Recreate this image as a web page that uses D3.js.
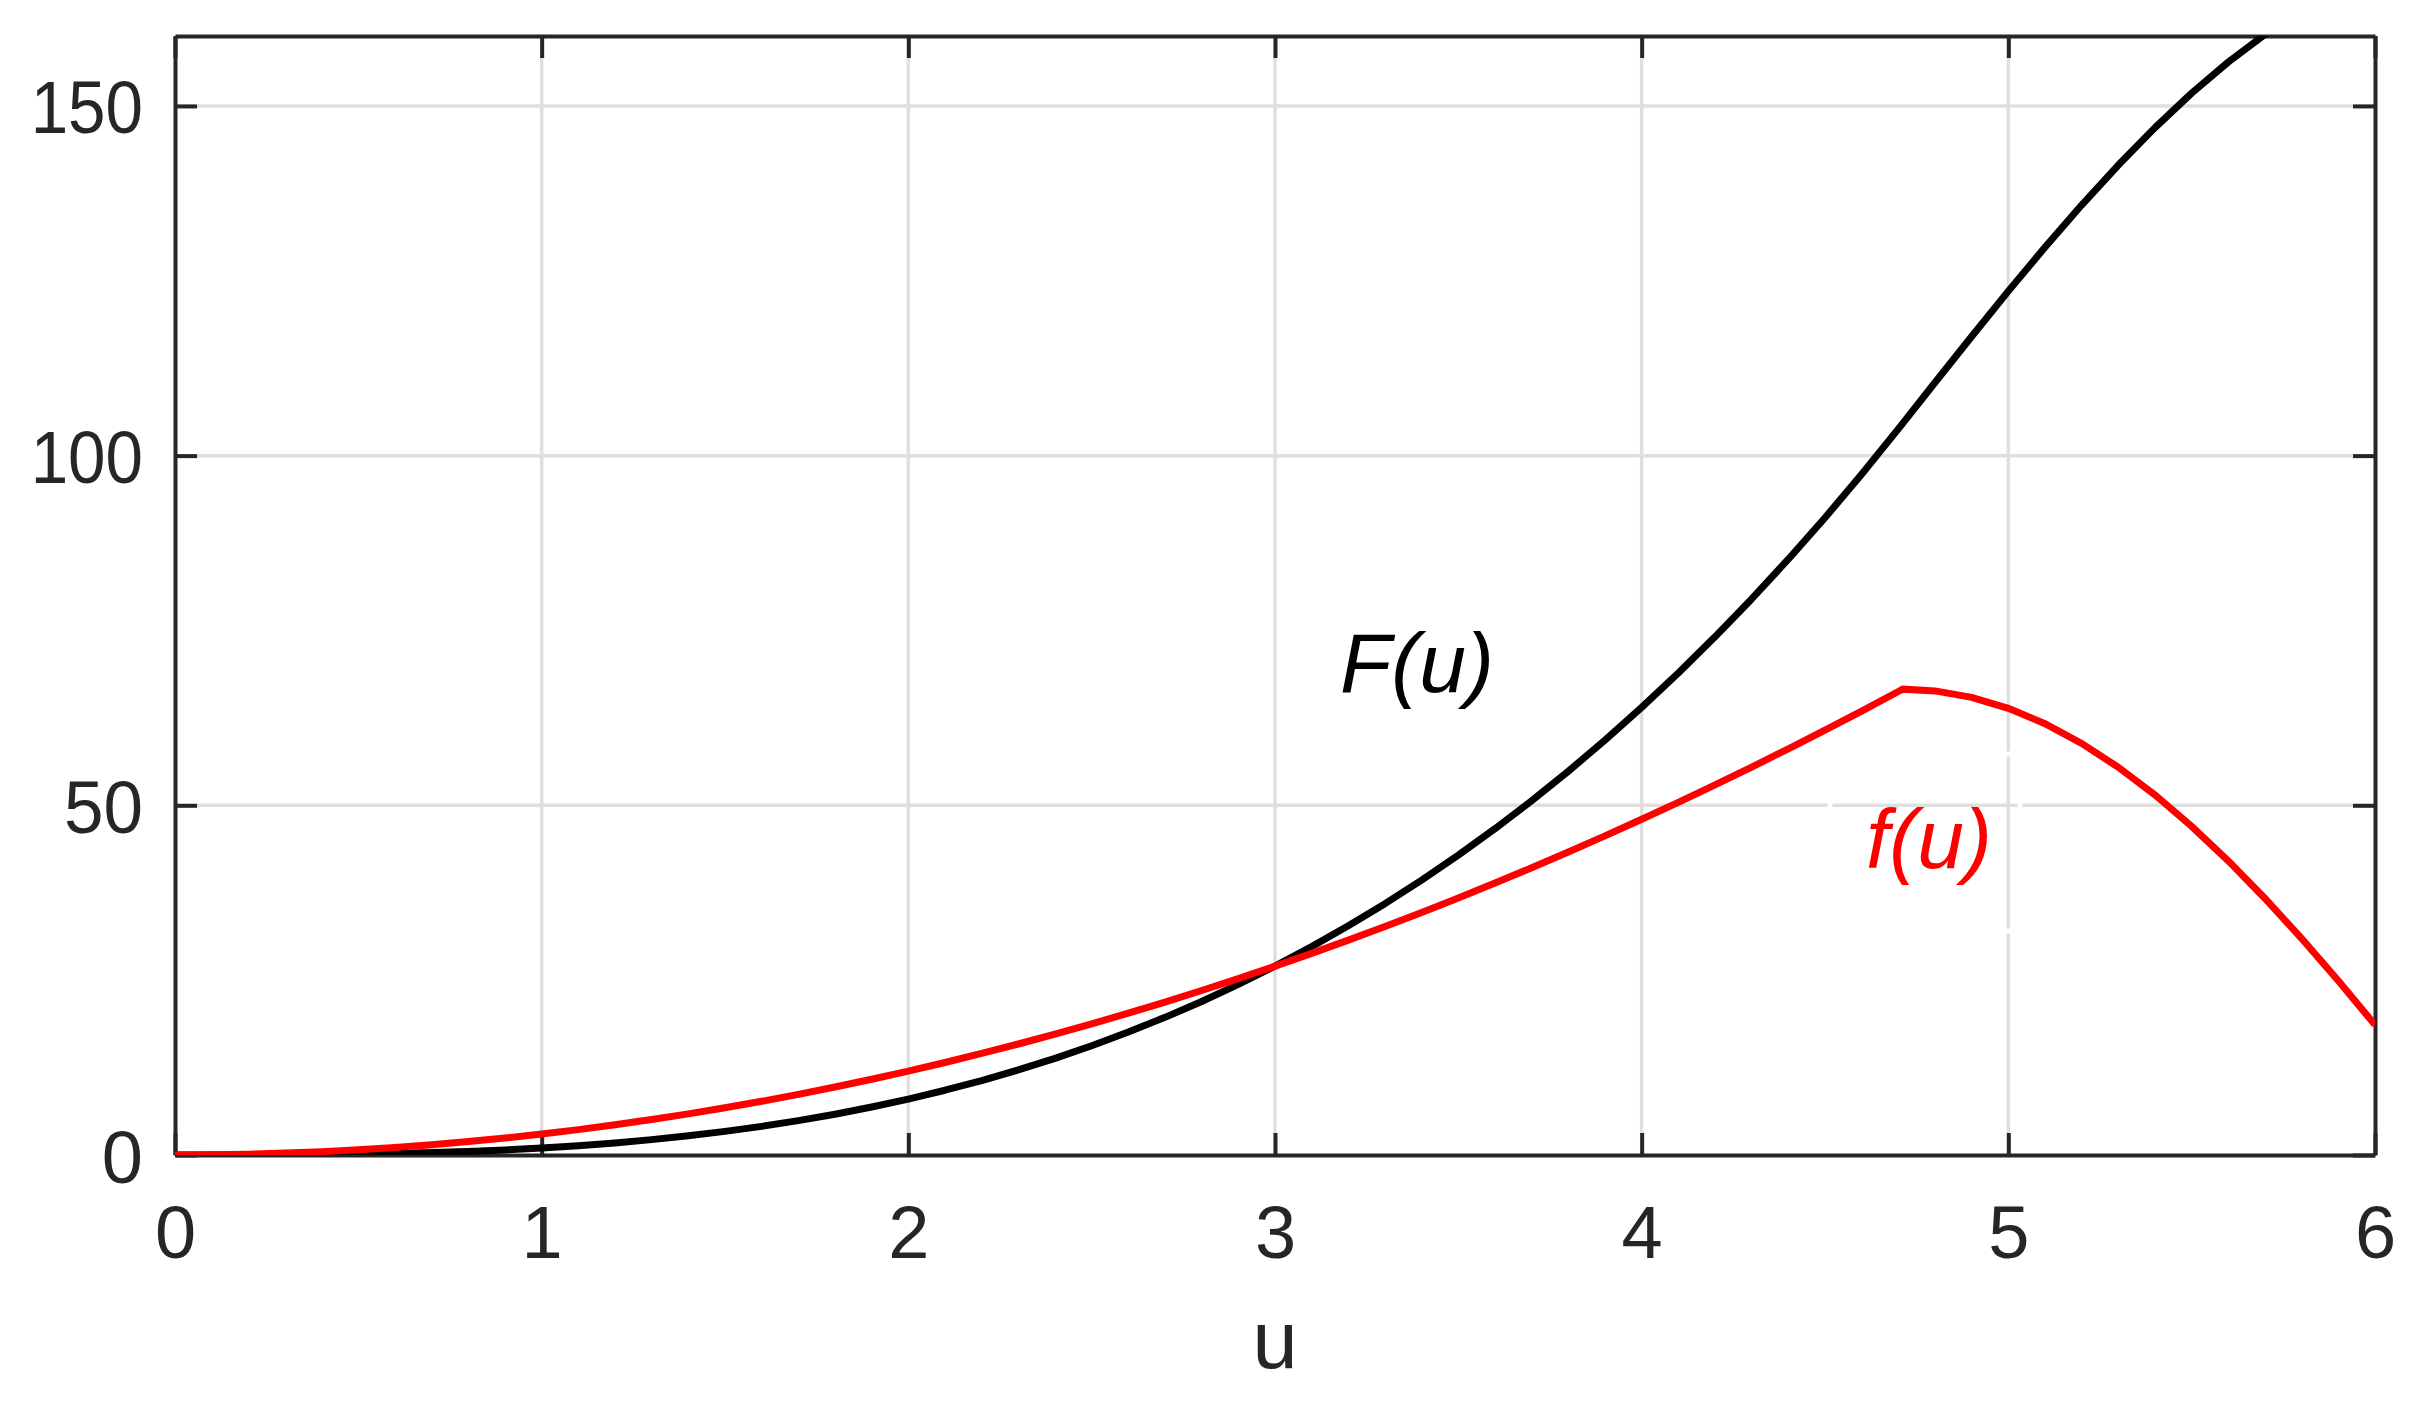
<!DOCTYPE html>
<html>
<head>
<meta charset="utf-8">
<script src="https://cdn.jsdelivr.net/npm/d3@7"></script>
<style>
  html, body { margin: 0; padding: 0; background: #fff; }
  svg { display: block; }
</style>
</head>
<body>
<svg id="chart" width="2435" height="1406"></svg>
<script>
// ---- data ----
const uValues = [0,0.1,0.2,0.3,0.4,0.5,0.6,0.7,0.8,0.9,1.0,1.1,1.2,1.3,1.4,1.5,1.6,1.7,1.8,1.9,
  2.0,2.1,2.2,2.3,2.4,2.5,2.6,2.7,2.8,2.9,3.0,3.1,3.2,3.3,3.4,3.5,3.6,3.7,3.8,3.9,
  4.0,4.1,4.2,4.3,4.4,4.5,4.6,4.7,4.712,4.8,4.9,5.0,5.1,5.2,5.3,5.4,5.5,5.6,5.7,5.8,5.9,6.0];
const bigF = [0,0.001,0.008,0.027,0.064,0.125,0.216,0.343,0.512,0.729,1,1.331,1.728,2.197,2.744,3.375,4.096,4.913,5.832,6.859,
  8,9.261,10.648,12.167,13.824,15.625,17.576,19.683,21.952,24.389,27,29.791,32.768,35.937,39.304,42.875,46.656,50.653,54.872,59.319,
  64,68.921,74.088,79.507,85.184,91.125,97.336,103.823,104.62,110.45,117.04,123.52,129.80,135.83,141.55,146.90,151.83,156.28,160.22,163.60,166.40,168.58];
const smallF = [0,0.03,0.12,0.27,0.48,0.75,1.08,1.47,1.92,2.43,3,3.63,4.32,5.07,5.88,6.75,7.68,8.67,9.72,10.83,
  12,13.23,14.52,15.87,17.28,18.75,20.28,21.87,23.52,25.23,27,28.83,30.72,32.67,34.68,36.75,38.88,41.07,43.32,45.63,
  48,50.43,52.92,55.47,58.08,60.75,63.48,66.27,66.61,66.36,65.44,63.87,61.67,58.85,55.44,51.48,46.99,42.05,36.68,30.95,24.91,18.61];
const xTicks = [0,1,2,3,4,5,6];
const yTicks = [0,50,100,150];
const xLabel = "u";
const seriesLabels = ["F(u)", "f(u)"];

// ---- layout ----
const L = 175, R = 2375, T = 36, B = 1155;
const axisColor = "#262626", gridColor = "#dfdfdf";
const tickFont = 74, labelFont = 81, annFont = 84;
const fontFamily = "'Liberation Sans', Arial, Helvetica, sans-serif";

const svg = d3.select("#chart");
const x = d3.scaleLinear().domain([0, 6]).range([L, R]);
const y = d3.scaleLinear().domain([0, 160]).range([B, T]);

// grid
const grid = svg.append("g");
grid.selectAll("line.gx").data(xTicks.slice(1, -1)).enter().append("line")
  .attr("x1", d => x(d)).attr("x2", d => x(d)).attr("y1", T).attr("y2", B)
  .attr("stroke", gridColor).attr("stroke-width", 3.5);
grid.selectAll("line.gy").data(yTicks.slice(1)).enter().append("line")
  .attr("x1", L).attr("x2", R).attr("y1", d => y(d)).attr("y2", d => y(d))
  .attr("stroke", gridColor).attr("stroke-width", 3.5);

// white outline of the f(u) text box (interrupts the grid)
svg.append("rect").attr("x", 1830).attr("y", 754).attr("width", 190).attr("height", 177)
  .attr("fill", "none").attr("stroke", "#fff").attr("stroke-width", 5);

// axes (box, inward ticks on all sides)
const tickLen = 22;
const axB = d3.axisBottom(x).tickValues(xTicks).tickSize(-tickLen).tickSizeOuter(0).tickPadding(50).tickFormat(d3.format("d"));
const axT = d3.axisTop(x).tickValues(xTicks).tickSize(-tickLen).tickSizeOuter(0).tickFormat("");
const axLft = d3.axisLeft(y).tickValues(yTicks).tickSize(-tickLen).tickSizeOuter(0).tickPadding(32).tickFormat(d3.format("d"));
const axRgt = d3.axisRight(y).tickValues(yTicks).tickSize(-tickLen).tickSizeOuter(0).tickFormat("");

function styleAxis(g) {
  g.selectAll("path.domain").attr("stroke", axisColor).attr("stroke-width", 4);
  g.selectAll(".tick line").attr("stroke", axisColor).attr("stroke-width", 4);
  g.selectAll(".tick text").attr("fill", axisColor).attr("font-size", tickFont).attr("font-family", fontFamily);
}
const gB = svg.append("g").attr("transform", `translate(0,${B})`).call(axB).call(styleAxis);
gB.selectAll(".tick text").attr("dy", null).attr("y", null).attr("transform", null)
  .attr("dominant-baseline", "auto").attr("y", 103);
svg.append("g").attr("transform", `translate(0,${T})`).call(axT).call(styleAxis);
const gL = svg.append("g").attr("transform", `translate(${L},0)`).call(axLft).call(styleAxis);
gL.selectAll(".tick text").attr("dy", null).attr("dominant-baseline", "auto").attr("y", 27)
  .each(function(d) {
    const s = String(d);
    if (s.length > 1) {
      const w = this.getComputedTextLength();
      d3.select(this).attr("textLength", w * (s.length === 3 ? 0.91 : 0.96)).attr("lengthAdjust", "spacingAndGlyphs");
    }
  });
svg.append("g").attr("transform", `translate(${R},0)`).call(axRgt).call(styleAxis);

// x label
svg.append("text").attr("x", (L + R) / 2).attr("y", 1368).attr("text-anchor", "middle")
  .attr("font-size", labelFont).attr("font-family", fontFamily).attr("fill", axisColor).text(xLabel);

// clip
svg.append("defs").append("clipPath").attr("id", "plotclip")
  .append("rect").attr("x", L).attr("y", T).attr("width", R - L).attr("height", B - T);

const data = uValues.map((u, i) => ({ u, F: bigF[i], f: smallF[i] }));
const lines = svg.append("g").attr("clip-path", "url(#plotclip)");
lines.append("path").datum(data)
  .attr("d", d3.line().x(d => x(d.u)).y(d => y(d.F)))
  .attr("fill", "none").attr("stroke", "#000").attr("stroke-width", 7).attr("stroke-linejoin", "round");
lines.append("path").datum(data)
  .attr("d", d3.line().x(d => x(d.u)).y(d => y(d.f)))
  .attr("fill", "none").attr("stroke", "#ff0000").attr("stroke-width", 7).attr("stroke-linejoin", "miter");

// annotations
svg.append("text").attr("x", 1340).attr("y", 692).attr("font-size", annFont).attr("font-style", "italic")
  .attr("font-family", fontFamily).attr("fill", "#000").text(seriesLabels[0]);
svg.append("text").attr("x", 1866).attr("y", 868).attr("font-size", annFont).attr("font-style", "italic")
  .attr("font-family", fontFamily).attr("fill", "#ff0000").text(seriesLabels[1]);
</script>
</body>
</html>
